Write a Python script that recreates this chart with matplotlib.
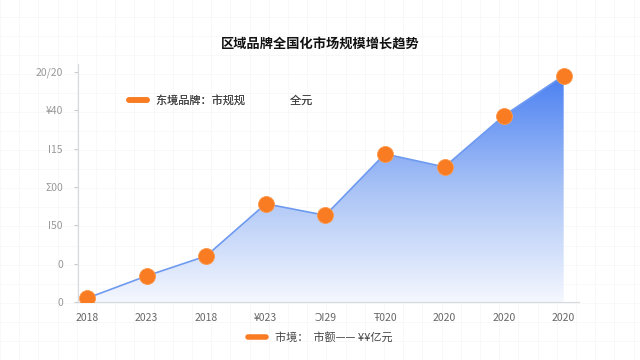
import numpy as np
import matplotlib
matplotlib.use('Agg')
import matplotlib.pyplot as plt
from matplotlib.colors import LinearSegmentedColormap
from matplotlib.lines import Line2D

plt.rcParams['font.family'] = ['Noto Sans CJK SC', 'DejaVu Sans']

# data
years = ['2018', '2023', '2018', '¥023', 'ƆI29', 'Ŧ020', '2020', '2020', '2020']
values = [5, 34, 60, 128, 113, 193, 176, 243, 295]
ytick_vals = [0, 50, 100, 150, 200, 250, 300]
ytick_labels = ['0', '0', 'I50', 'Σ00', 'I15', '¥40', '20/20']

title = '区域品牌全国化市场规模增长趋势'
legend_top = '东境品牌：市规规                  全元'
legend_bottom = '市境：  市额—— ¥¥亿元'

fig = plt.figure(figsize=(6.4, 3.6), dpi=100)
fig.patch.set_facecolor('white')

# faint background grid over the whole figure
for gx in np.arange(0, 1, 0.03):
    fig.add_artist(Line2D([gx, gx], [0, 1], color='#f7f7f7', lw=0.6, zorder=0))
for gy in np.arange(0, 1, 0.053):
    fig.add_artist(Line2D([0, 1], [gy, gy], color='#f7f7f7', lw=0.6, zorder=0))

ax = fig.add_axes([0.122, 0.161, 0.782, 0.661])
ax.patch.set_alpha(0)

x = np.arange(len(values))

# gradient area under the line
cmap = LinearSegmentedColormap.from_list('blu', ['#f4f7fe', '#a9c3f6', '#4a80f2'])
grad = np.linspace(0, 1, 256).reshape(-1, 1)
poly = ax.fill_between(x, values, 0, color='none')
img = ax.imshow(grad, aspect='auto', cmap=cmap, origin='lower',
                extent=[x[0], x[-1], 0, max(values)], zorder=1)
img.set_clip_path(poly.get_paths()[0], transform=ax.transData)

ax.plot(x, values, color='#6e9af0', lw=1.2, zorder=2)
ax.plot(x, values, 'o', color='#f97c23', markersize=11.5, zorder=3,
        markeredgecolor='#fb9a4e', markeredgewidth=0.6)

ax.set_xlim(-0.15, 8.25)
ax.set_ylim(0, 310)
ax.set_xticks(x)
ax.set_xticklabels(years, fontsize=7.5, color='#666666')
ax.set_yticks(ytick_vals)
ax.set_yticklabels(ytick_labels, fontsize=7.5, color='#999999')
ax.tick_params(axis='x', length=0, pad=8)
ax.tick_params(axis='y', length=3, color='#cccccc', pad=8)
for s in ['top', 'right']:
    ax.spines[s].set_visible(False)
ax.spines['left'].set_color('#d5d9e0')
ax.spines['bottom'].set_color('#d5d9e0')

fig.text(0.5, 0.878, title, ha='center', va='center', fontsize=9.5,
         fontweight='bold', color='#111111')

h_top = Line2D([], [], color='#f97c23', lw=4, solid_capstyle='round')
leg1 = ax.legend([h_top], [legend_top], loc='center left',
                 bbox_to_anchor=(0.082, 0.849), frameon=False, fontsize=8,
                 handlelength=1.6, labelcolor='#444444')
ax.add_artist(leg1)
h_bot = Line2D([], [], color='#f97c23', lw=4, solid_capstyle='round')
fig.legend([h_bot], [legend_bottom], loc='center', bbox_to_anchor=(0.5, 0.062),
           frameon=False, fontsize=8, handlelength=1.6, labelcolor='#444444')

fig.savefig('out.png', dpi=100, facecolor='white')
